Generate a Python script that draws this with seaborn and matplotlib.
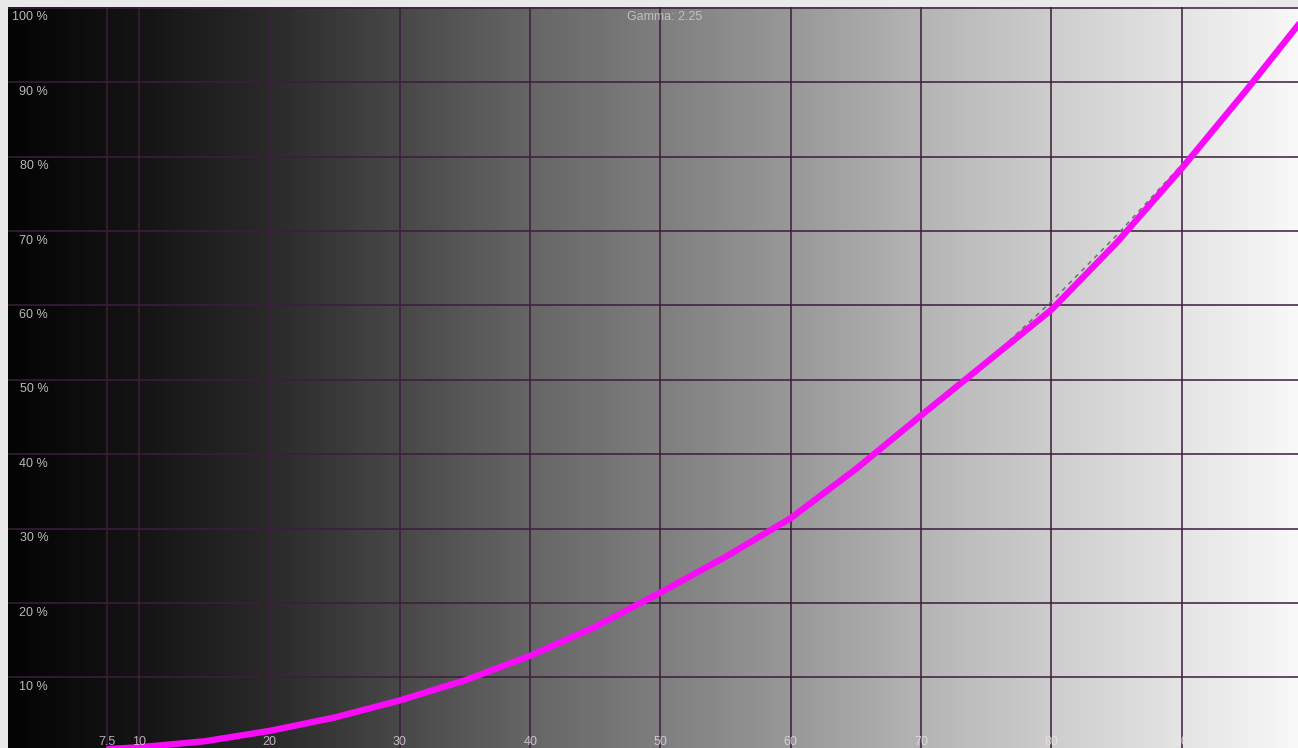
import numpy as np
import pandas as pd
import matplotlib
matplotlib.use("Agg")
import matplotlib.pyplot as plt
from matplotlib.colors import LinearSegmentedColormap
import seaborn as sns

# Measured luminance curve (stimulus % -> output %)
measured_x = [2.2, 5, 7.5, 10, 15, 20, 25, 30, 35, 40, 45, 50, 55, 60, 65,
              70, 75, 80, 85, 90, 95, 99]
measured_y = [0.1, 0.2, 0.35, 0.6, 1.4, 2.8, 4.6, 6.9, 9.6, 12.9, 16.8, 21.4,
              26.2, 31.4, 38.0, 45.2, 52.3, 59.4, 68.4, 78.4, 89.0, 97.8]

# Target gamma 2.25 reference (dashed)
target_x = [0, 5, 10, 15, 20, 25, 30, 35, 40, 45, 50, 55, 60, 65, 70, 75,
            80, 85, 90, 95, 100]
target_y = [0, 0.12, 0.56, 1.40, 2.68, 4.42, 6.66, 9.42, 12.72, 16.58, 21.02,
            26.05, 31.7, 37.94, 44.82, 52.35, 60.5, 69.4, 78.9, 89.1, 100]

x_ticks = [7.5, 10, 20, 30, 40, 50, 60, 70, 80, 90]
x_tick_labels = ["7.5", "10", "20", "30", "40", "50", "60", "70", "80", "90"]
y_ticks = [10, 20, 30, 40, 50, 60, 70, 80, 90, 100]
y_tick_labels = [f"{v} %" for v in y_ticks]

# background grayscale ramp (position, gray level 0-255)
ramp_pos = [0, 10, 20, 30, 40, 50, 60, 70, 80, 90, 99]
ramp_gray = [4, 20, 42, 72, 102, 126, 152, 180, 205, 228, 248]

title_text = "Gamma: 2.25"

sns.set_theme(style="white")
plt.rcParams["font.family"] = ["Liberation Sans", "DejaVu Sans"]

fig = plt.figure(figsize=(12.98, 7.48), dpi=100, facecolor="#e9e9e9")
ax = fig.add_axes([8 / 1298, 0, 1290 / 1298, 741 / 748])

xmin, xmax = -0.08, 98.93
ymin, ymax = 0.5, 100.1

# grayscale background
stops = [((p - xmin) / (xmax - xmin), (g / 255,) * 3) for p, g in zip(ramp_pos, ramp_gray)]
stops[0] = (0.0, stops[0][1])
stops[-1] = (1.0, stops[-1][1])
cmap = LinearSegmentedColormap.from_list("ramp", stops)
grad = np.linspace(0, 1, 1024).reshape(1, -1)
ax.imshow(grad, cmap=cmap, aspect="auto", extent=[xmin, xmax, ymin, ymax],
          zorder=0, interpolation="bilinear")

# grid
grid_kw = dict(color="#3c1e3c", lw=1.4, alpha=0.8, zorder=1)
for xv in x_ticks:
    ax.axvline(xv, **grid_kw)
for yv in y_ticks:
    ax.axhline(yv, **grid_kw)

target = pd.DataFrame({"x": target_x, "y": target_y})
measured = pd.DataFrame({"x": measured_x, "y": measured_y})
sns.lineplot(data=target, x="x", y="y", ax=ax, color="#6e6e6e", lw=1.1,
             linestyle=(0, (3, 3)), zorder=2, legend=False)
sns.lineplot(data=measured, x="x", y="y", ax=ax, color="#f80cf8", lw=4.6,
             zorder=3, legend=False, solid_capstyle="round",
             solid_joinstyle="round")

ax.set_xlim(xmin, xmax)
ax.set_ylim(ymin, ymax)
ax.set_xticks([])
ax.set_yticks([])
ax.set_xlabel("")
ax.set_ylabel("")
for s in ax.spines.values():
    s.set_visible(False)

# labels drawn inside the plot
for yv, lab in zip(y_ticks, y_tick_labels):
    ax.text(3.0, yv - 1.3, lab, ha="right", va="center", fontsize=9,
            color="#d8d8d8", alpha=0.85, zorder=4)
for xv, lab in zip(x_ticks, x_tick_labels):
    ax.text(xv, 0.008, lab, transform=ax.get_xaxis_transform(), ha="center",
            va="center", fontsize=9, color="#e8e8e8", alpha=0.75, zorder=4)

ax.text(50.3, 98.8, title_text, ha="center", va="center", fontsize=9,
        color="#d0d0d0", alpha=0.8, zorder=4)

fig.savefig("out.png", dpi=100, facecolor=fig.get_facecolor())
